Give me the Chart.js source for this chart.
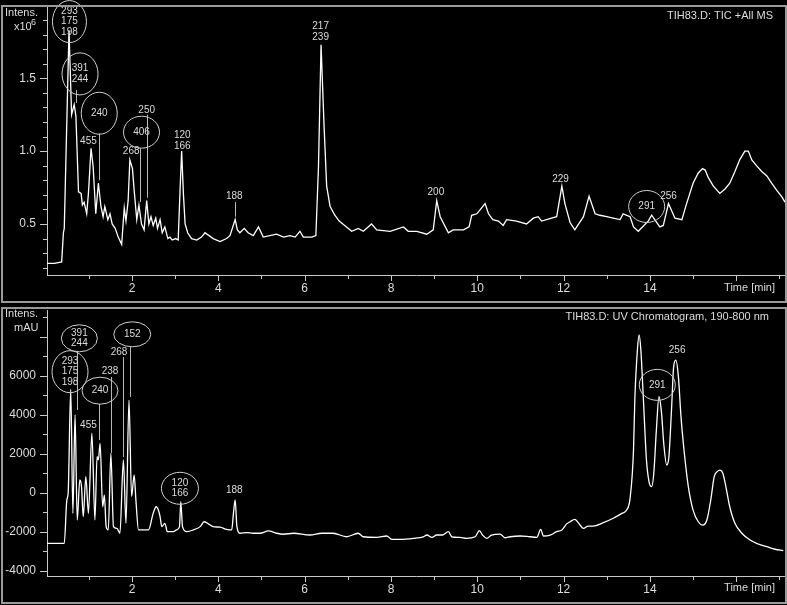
<!DOCTYPE html>
<html>
<head>
<meta charset="utf-8">
<script src="https://cdn.jsdelivr.net/npm/chart.js@4.4.1/dist/chart.umd.min.js"></script>
<style>
  html, body { margin: 0; padding: 0; background: #000; }
  #wrap { position: relative; width: 787px; height: 605px; background: #000; overflow: hidden; }
  canvas { position: absolute; left: 0; }
  .frame { position: absolute; border: 2px solid #9a9a9a; box-sizing: border-box; pointer-events: none; }
</style>
</head>
<body>
<div id="wrap">
  <canvas id="tic" width="787" height="303" style="top:0;width:787px;height:303px"></canvas>
  <canvas id="uv" width="787" height="302" style="top:303px;width:787px;height:302px"></canvas>
  <div class="frame" style="left:1px;top:5px;width:786px;height:298px"></div>
  <div class="frame" style="left:1px;top:307px;width:786px;height:297px"></div>
</div>
<script>
// TIC trace (time in min, intensity x10^6)
const ticTime = [0.02, 0.20, 0.37, 0.41, 0.43, 0.54, 0.60, 0.66, 0.70, 0.76, 0.82, 0.85, 0.89, 0.95, 0.99, 1.05, 1.10, 1.16, 1.22, 1.28,
  1.33, 1.37, 1.44, 1.49, 1.54, 1.61, 1.68, 1.76, 1.82, 1.86, 1.91, 1.95, 2.01, 2.05, 2.11, 2.16, 2.22, 2.28, 2.34, 2.39,
  2.44, 2.49, 2.55, 2.59, 2.65, 2.70, 2.76, 2.83, 2.88, 2.93, 3.01, 3.07, 3.11, 3.15, 3.19, 3.23, 3.29, 3.38, 3.50, 3.61,
  3.69, 3.88, 4.04, 4.19, 4.27, 4.39, 4.44, 4.50, 4.60, 4.69, 4.81, 4.93, 5.04, 5.35, 5.51, 5.66, 5.78, 5.89, 5.97, 6.16,
  6.26, 6.32, 6.38, 6.45, 6.51, 6.59, 6.70, 6.80, 6.97, 7.09, 7.24, 7.36, 7.55, 7.67, 7.98, 8.29, 8.40, 8.60, 8.83, 8.98,
  9.06, 9.14, 9.33, 9.44, 9.68, 9.81, 9.87, 9.99, 10.18, 10.26, 10.36, 10.49, 10.60, 10.68, 10.91, 11.14, 11.30, 11.41, 11.49, 11.72,
  11.84, 11.96, 12.03, 12.15, 12.26, 12.46, 12.59, 12.73, 12.84, 13.00, 13.15, 13.31, 13.38, 13.54, 13.62, 13.73, 13.96, 14.04, 14.23, 14.31,
  14.43, 14.58, 14.74, 14.85, 15.00, 15.12, 15.22, 15.28, 15.35, 15.47, 15.62, 15.74, 15.85, 15.97, 16.08, 16.20, 16.28, 16.36, 16.47, 16.59,
  16.71, 16.82, 16.94, 17.05, 17.13];
const ticValue = [0.23, 0.23, 0.24, 0.44, 0.47, 1.83, 1.25, 1.32, 1.24, 0.72, 0.71, 0.63, 0.65, 0.57, 0.71, 1.02, 0.89, 0.57, 0.78, 0.62,
  0.55, 0.62, 0.53, 0.57, 0.50, 0.47, 0.41, 0.36, 0.61, 0.52, 0.66, 0.94, 0.88, 0.73, 0.53, 0.63, 0.50, 0.46, 0.66, 0.50,
  0.55, 0.49, 0.54, 0.47, 0.53, 0.44, 0.48, 0.40, 0.41, 0.39, 0.40, 0.39, 0.71, 1.00, 0.71, 0.50, 0.44, 0.40, 0.39, 0.41,
  0.44, 0.40, 0.38, 0.40, 0.42, 0.53, 0.46, 0.44, 0.47, 0.44, 0.42, 0.48, 0.41, 0.43, 0.41, 0.42, 0.41, 0.45, 0.41, 0.41,
  0.42, 0.89, 1.73, 1.17, 0.76, 0.62, 0.56, 0.52, 0.48, 0.45, 0.47, 0.45, 0.50, 0.46, 0.45, 0.48, 0.45, 0.45, 0.43, 0.46,
  0.66, 0.55, 0.44, 0.46, 0.46, 0.48, 0.56, 0.57, 0.64, 0.57, 0.53, 0.52, 0.49, 0.53, 0.52, 0.50, 0.54, 0.55, 0.52, 0.54,
  0.55, 0.76, 0.64, 0.51, 0.46, 0.55, 0.69, 0.57, 0.56, 0.55, 0.54, 0.53, 0.57, 0.55, 0.48, 0.45, 0.52, 0.56, 0.48, 0.49,
  0.64, 0.54, 0.53, 0.64, 0.78, 0.85, 0.88, 0.87, 0.82, 0.76, 0.71, 0.74, 0.78, 0.86, 0.94, 1.00, 1.00, 0.94, 0.90, 0.86,
  0.83, 0.78, 0.73, 0.69, 0.65];

// UV trace (time in min, mAU)
const uvTime = [0.02, 0.43, 0.49, 0.52, 0.58, 0.63, 0.68, 0.73, 0.79, 0.83, 0.87, 0.93, 0.99, 1.07, 1.14, 1.19, 1.22, 1.26, 1.32, 1.36,
  1.40, 1.45, 1.51, 1.57, 1.65, 1.72, 1.80, 1.86, 1.93, 1.99, 2.05, 2.09, 2.15, 2.26, 2.38, 2.49, 2.56, 2.61, 2.65, 2.69,
  2.76, 2.82, 2.96, 3.03, 3.10, 3.13, 3.17, 3.27, 3.42, 3.58, 3.67, 3.77, 3.88, 4.04, 4.19, 4.31, 4.35, 4.39, 4.43, 4.50,
  4.66, 4.81, 4.97, 5.16, 5.35, 5.51, 5.74, 6.12, 6.40, 6.66, 6.97, 7.24, 7.36, 7.67, 7.90, 8.02, 8.21, 8.52, 8.75, 8.83,
  8.95, 9.06, 9.20, 9.33, 9.41, 9.60, 9.75, 9.95, 10.05, 10.12, 10.22, 10.33, 10.53, 10.64, 10.76, 10.99, 11.22, 11.38, 11.47, 11.53,
  11.69, 11.84, 11.96, 12.07, 12.15, 12.26, 12.34, 12.46, 12.57, 12.69, 12.92, 13.15, 13.35, 13.46, 13.54, 13.62, 13.65, 13.71, 13.75, 13.79,
  13.85, 13.92, 13.98, 14.04, 14.09, 14.15, 14.21, 14.27, 14.32, 14.39, 14.44, 14.50, 14.55, 14.60, 14.66, 14.72, 14.79, 14.89, 15.00, 15.12,
  15.22, 15.32, 15.41, 15.49, 15.56, 15.62, 15.69, 15.76, 15.85, 15.97, 16.13, 16.32, 16.51, 16.71, 16.90, 17.09];
const uvValue = [-2600, -2600, -370, -30, 5300, -1060, 4000, -1400, 650, 300, -1230, 820, -1060, 3050, -1400, 1850, 1680, 2530, -720, -120,
  -1740, -1910, 2020, -1740, -1830, -2080, 1680, -1570, 4750, -200, 910, -370, -1910, -1910, -1910, -1060, -720, -890, -1230, -1740,
  -1570, -2000, -2000, -1910, -1740, -460, -1740, -2000, -1910, -1740, -1490, -1600, -1740, -1770, -1880, -1910, -1060, -370, -1740, -2080,
  -2050, -2080, -2080, -1960, -2080, -2130, -2080, -2170, -2080, -2080, -2260, -2080, -2260, -2290, -2220, -2390, -2390, -2340, -2260, -2170,
  -2290, -2170, -2170, -2000, -2260, -2290, -2340, -2260, -1950, -2170, -2340, -2170, -2120, -2310, -2260, -2220, -2260, -2290, -1880, -2220,
  -2170, -2000, -1910, -1600, -1490, -1370, -1540, -1830, -1710, -1710, -1540, -1310, -1060, -890, -290, 2190, 4750, 7320, 8090, 7320,
  4750, 1680, 560, 310, 1000, 3220, 4920, 4070, 2530, 1420, 1850, 4240, 6460, 6800, 5950, 3900, 2190, 310, -890, -1490,
  -1660, -1400, -370, 820, 1080, 1160, 1000, 310, -720, -1570, -2080, -2430, -2630, -2770, -2900, -2970];

// axis ticks and which of them carry a label
const timeTicks = [1, 2, 3, 4, 5, 6, 7, 8, 9, 10, 11, 12, 13, 14, 15, 16, 17];
const timeLabels = [2, 4, 6, 8, 10, 12, 14];
const ticTicks = [0.2, 0.3, 0.4, 0.5, 0.6, 0.7, 0.8, 0.9, 1.0, 1.1, 1.2, 1.3, 1.4, 1.5, 1.6, 1.7, 1.8, 1.9];
const ticLabels = [0.5, 1.0, 1.5];
const uvTicks = [-4000, -3000, -2000, -1000, 0, 1000, 2000, 3000, 4000, 5000, 6000, 7000, 8000, 9000];
const uvLabels = [-4000, -2000, 0, 2000, 4000, 6000];

// peak annotations (text lines, ring = ellipse radii) and leader lines [time, from, to]
const ticNotes = [
  { t: 0.55, v: 1.889, text: ['293', '175', '198'], ring: [17, 21] },
  { t: 0.795, v: 1.53, text: ['391', '244'], ring: [18, 21] },
  { t: 1.24, v: 1.26, text: ['240'], ring: [18, 21] },
  { t: 0.99, v: 1.065, text: ['455'] },
  { t: 1.98, v: 1.0, text: ['268'] },
  { t: 2.22, v: 1.13, text: ['406'], ring: [18, 16] },
  { t: 2.34, v: 1.28, text: ['250'] },
  { t: 3.165, v: 1.07, text: ['120', '166'] },
  { t: 4.37, v: 0.69, text: ['188'] },
  { t: 6.37, v: 1.82, text: ['217', '239'] },
  { t: 9.04, v: 0.72, text: ['200'] },
  { t: 11.93, v: 0.81, text: ['229'] },
  { t: 13.925, v: 0.62, text: ['291'], ring: [18, 16] },
  { t: 14.43, v: 0.69, text: ['256'] }
];
const ticLeads = [[0.71, 1.42, 1.33], [1.23, 1.12, 0.80], [2.19, 1.02, 0.65], [2.35, 1.25, 0.68], [4.39, 0.65, 0.55]];

const uvNotes = [
  { t: 0.78, v: 7918, text: ['391', '244'], ring: [18, 13.5] },
  { t: 0.563, v: 6205, text: ['293', '175', '198'], ring: [18, 21] },
  { t: 1.258, v: 5231, text: ['240'], ring: [18, 13.5] },
  { t: 1.49, v: 6205, text: ['238'] },
  { t: 0.99, v: 3472, text: ['455'] },
  { t: 1.70, v: 7179, text: ['268'] },
  { t: 2.006, v: 8123, text: ['152'], ring: [18.5, 12.5] },
  { t: 3.11, v: 226, text: ['120', '166'], ring: [18.5, 16] },
  { t: 4.37, v: 103, text: ['188'] },
  { t: 14.17, v: 5530, text: ['291'], ring: [18, 15.5] },
  { t: 14.63, v: 7282, text: ['256'] }
];
const uvLeads = [[0.73, 7215, 4241], [1.23, 4549, 2702], [1.505, 5933, 2036], [1.80, 6959, 1831], [1.955, 7472, 4908]];

Chart.defaults.font.family = '"Liberation Sans", Arial, sans-serif';
Chart.defaults.color = '#dcdcdc';

const FG = '#dcdcdc';
const near = (a, b) => Math.abs(a - b) < 1e-6;
const inList = (list, v) => list.some(l => near(l, v));

const deco = {
  id: 'deco',
  afterDatasetsDraw(chart, args, opts) {
    const { ctx, scales: { x, y }, chartArea: a } = chart;
    ctx.save();
    // tick marks
    ctx.strokeStyle = '#c8c8c8';
    ctx.lineWidth = 1;
    ctx.beginPath();
    x.ticks.forEach(tk => {
      const px = Math.round(x.getPixelForValue(tk.value)) + 0.5;
      const len = Math.round(tk.value) % 2 === 0 ? 6 : 4;
      ctx.moveTo(px, a.bottom);
      ctx.lineTo(px, a.bottom + len);
    });
    y.ticks.forEach(tk => {
      const py = Math.round(y.getPixelForValue(tk.value)) + 0.5;
      const len = opts.isMajor(tk.value) ? 7 : 4;
      ctx.moveTo(a.left, py);
      ctx.lineTo(a.left - len, py);
    });
    ctx.stroke();

    // leader lines
    ctx.strokeStyle = '#b8b8b8';
    ctx.beginPath();
    opts.leads.forEach(([t, v1, v2]) => {
      const px = Math.round(x.getPixelForValue(t)) + 0.5;
      ctx.moveTo(px, y.getPixelForValue(v1));
      ctx.lineTo(px, y.getPixelForValue(v2));
    });
    ctx.stroke();

    // notes
    ctx.font = '10px "Liberation Sans", Arial, sans-serif';
    ctx.textAlign = 'center';
    ctx.textBaseline = 'middle';
    opts.notes.forEach(n => {
      const cx = x.getPixelForValue(n.t);
      const cy = y.getPixelForValue(n.v);
      if (n.ring) {
        ctx.strokeStyle = '#d0d0d0';
        ctx.beginPath();
        ctx.ellipse(cx, cy, n.ring[0], n.ring[1], 0, 0, Math.PI * 2);
        ctx.stroke();
      }
      ctx.fillStyle = FG;
      const lh = 10.5;
      const top = cy - (n.text.length - 1) * lh / 2;
      n.text.forEach((s, i) => ctx.fillText(s, cx, top + i * lh));
    });

    // panel texts
    ctx.font = '11px "Liberation Sans", Arial, sans-serif';
    ctx.fillStyle = FG;
    ctx.textAlign = 'right';
    ctx.fillText(opts.title, opts.titleX, opts.titleY);
    ctx.fillText('Time [min]', 775, opts.timeY);
    ctx.textAlign = 'left';
    ctx.fillText('Intens.', 5, opts.unitY);
    ctx.fillText(opts.unit, 14, opts.unitY + 14);
    if (opts.sup) {
      ctx.font = '9px "Liberation Sans", Arial, sans-serif';
      ctx.fillText(opts.sup, 31, opts.unitY + 10);
    }
    ctx.restore();
  }
};

function makeChart(id, times, values, smooth, yMin, yMax, yTicks, yLabels, fmt, xAxisH, padTop, deco_opts) {
  deco_opts.isMajor = v => inList(yLabels, v) || (yLabels.length > 3 && near(v % 2000, 0));
  return new Chart(document.getElementById(id), {
    type: 'line',
    data: {
      datasets: [{
        data: times.map((t, i) => ({ x: t, y: values[i] })),
        borderColor: '#ffffff',
        borderWidth: 1.3,
        pointRadius: 0,
        cubicInterpolationMode: smooth ? 'monotone' : 'default',
        tension: 0,
        fill: false
      }]
    },
    options: {
      responsive: false,
      animation: false,
      layout: { padding: { left: 0, right: 2, top: padTop, bottom: 0 } },
      plugins: { legend: { display: false }, tooltip: { enabled: false }, deco: deco_opts },
      scales: {
        x: {
          type: 'linear',
          min: 0.03,
          max: 17.13,
          afterBuildTicks: s => { s.ticks = timeTicks.map(v => ({ value: v })); },
          afterFit: s => { s.height = xAxisH; s.paddingLeft = 0; s.paddingRight = 0; },
          border: { display: true, color: '#c8c8c8', width: 1 },
          grid: { drawOnChartArea: false, drawTicks: false },
          ticks: {
            autoSkip: false,
            maxRotation: 0,
            padding: 6,
            color: FG,
            font: { size: 12 },
            callback: v => inList(timeLabels, v) ? String(v) : ''
          }
        },
        y: {
          type: 'linear',
          min: yMin,
          max: yMax,
          afterBuildTicks: s => { s.ticks = yTicks.map(v => ({ value: v })); },
          afterFit: s => { s.width = 47; s.paddingTop = 0; s.paddingBottom = 0; },
          border: { display: true, color: '#c8c8c8', width: 1 },
          grid: { drawOnChartArea: false, drawTicks: false },
          ticks: {
            autoSkip: false,
            padding: 11,
            color: FG,
            font: { size: 12 },
            callback: v => inList(yLabels, v) ? fmt(v) : ''
          }
        }
      }
    },
    plugins: [deco]
  });
}

makeChart('tic', ticTime, ticValue, false, 0.15, 1.989, ticTicks, ticLabels, v => v.toFixed(1), 28, 7, {
  notes: ticNotes, leads: ticLeads,
  title: 'TIH83.D: TIC +All MS', titleX: 773, titleY: 16,
  timeY: 288, unitY: 13, unit: 'x10', sup: '6'
});

makeChart('uv', uvTime, uvValue, true, -4272, 9369, uvTicks, uvLabels, v => String(v), 29, 7, {
  notes: uvNotes, leads: uvLeads,
  title: 'TIH83.D: UV Chromatogram, 190-800 nm', titleX: 769, titleY: 14,
  timeY: 285, unitY: 11, unit: 'mAU', sup: ''
});
</script>
</body>
</html>
